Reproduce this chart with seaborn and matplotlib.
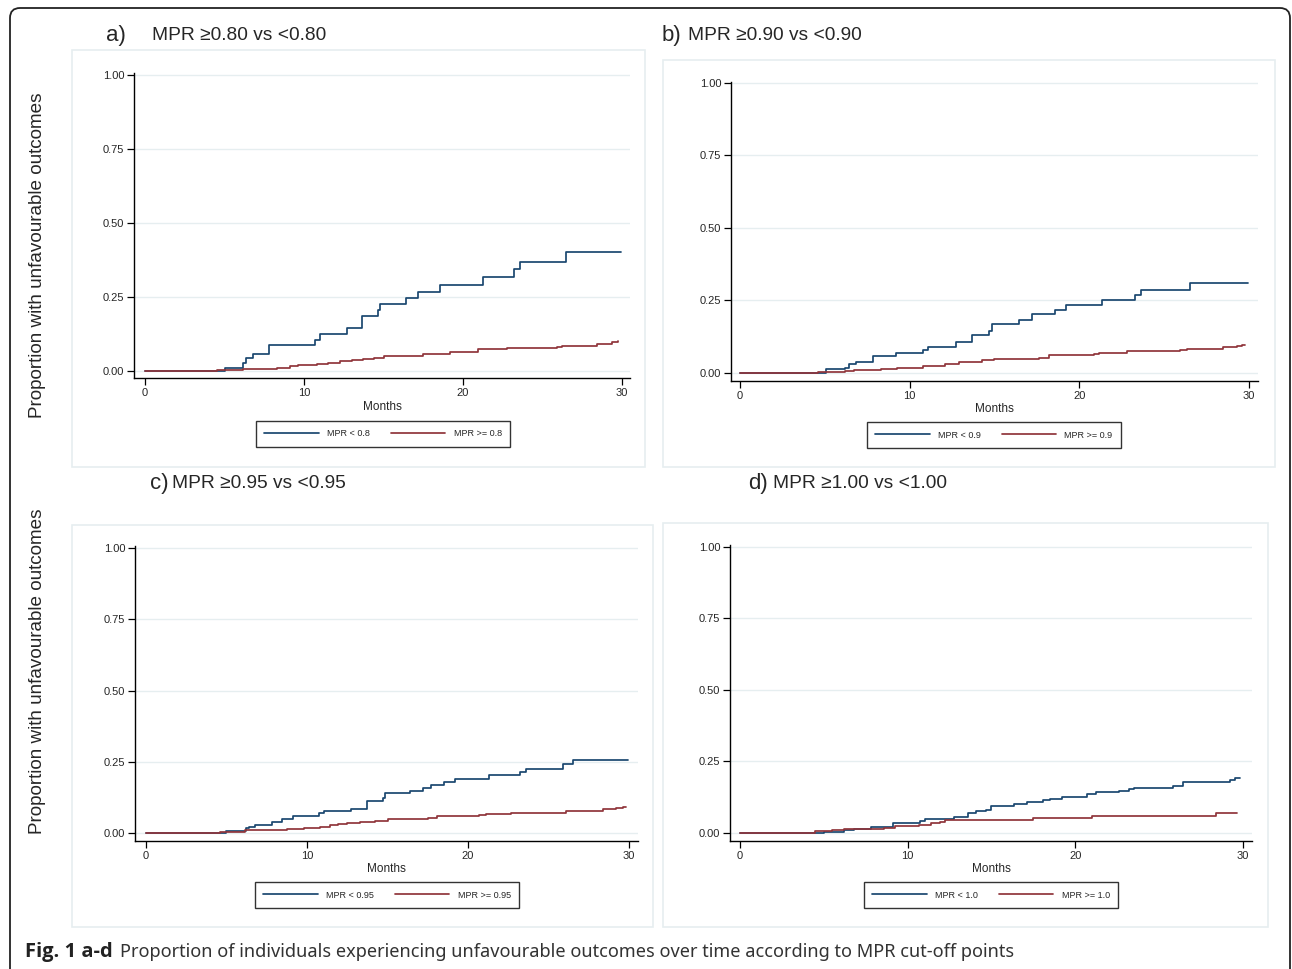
import matplotlib.pyplot as plt
import matplotlib.patches as mpatches
import matplotlib.transforms as mtransforms
import pandas as pd
import seaborn as sns

# step curves (months, cumulative proportion)
a_low_t = [0, 5.03, 6.18, 6.35, 6.81, 7.78, 10.71, 11.03, 12.68, 13.63, 14.63, 14.78,
           16.39, 17.15, 18.53, 21.28, 23.23, 23.58, 26.5, 29.92]
a_low_y = [0, 0.011, 0.026, 0.042, 0.057, 0.088, 0.105, 0.125, 0.144, 0.184, 0.205, 0.225,
           0.245, 0.267, 0.292, 0.316, 0.343, 0.369, 0.403, 0.403]
a_high_t = [0, 4.5, 6.18, 6.6, 8.28, 9.12, 9.6, 10.8, 11.5, 12.26, 13.0, 13.73, 14.4, 15.0,
            17.5, 19.2, 20.96, 22.75, 25.9, 26.2, 28.4, 29.35, 29.77]
a_high_y = [0, 0.002, 0.006, 0.008, 0.011, 0.016, 0.019, 0.023, 0.027, 0.032, 0.036, 0.040,
            0.045, 0.049, 0.057, 0.065, 0.073, 0.076, 0.080, 0.085, 0.090, 0.097, 0.100]

b_low_t = [0, 5.04, 6.2, 6.41, 6.83, 7.83, 9.21, 10.78, 11.1, 12.73, 13.69, 14.66, 14.85,
           16.45, 17.19, 18.55, 19.24, 21.33, 23.27, 23.61, 26.54, 29.96]
b_low_y = [0, 0.012, 0.018, 0.029, 0.038, 0.058, 0.069, 0.078, 0.090, 0.105, 0.129, 0.144,
           0.169, 0.184, 0.202, 0.217, 0.234, 0.250, 0.268, 0.287, 0.309, 0.309]
b_high_t = [0, 4.58, 6.2, 6.7, 8.34, 8.75, 9.25, 10.78, 11.08, 12.1, 12.9, 14.24, 14.95,
            17.6, 18.2, 20.85, 21.15, 22.78, 25.93, 26.34, 28.47, 29.29, 29.6, 29.75]
b_high_y = [0, 0.002, 0.006, 0.009, 0.012, 0.015, 0.018, 0.022, 0.025, 0.032, 0.038, 0.044,
            0.048, 0.053, 0.060, 0.065, 0.070, 0.075, 0.079, 0.083, 0.088, 0.092, 0.097, 0.097]

c_low_t = [0, 5.0, 6.19, 6.4, 6.8, 7.8, 8.43, 9.15, 10.77, 11.08, 12.71, 13.71, 14.74, 14.82,
           16.4, 17.18, 17.68, 18.53, 19.21, 21.28, 23.23, 23.58, 25.92, 26.54, 29.92]
c_low_y = [0, 0.008, 0.018, 0.022, 0.028, 0.040, 0.048, 0.060, 0.069, 0.078, 0.085, 0.111,
           0.124, 0.139, 0.147, 0.158, 0.169, 0.179, 0.189, 0.203, 0.213, 0.225, 0.241, 0.255, 0.255]
c_high_t = [0, 4.6, 6.15, 7.5, 8.74, 9.8, 10.8, 11.4, 11.9, 12.46, 13.3, 14.2, 15.05, 17.5,
            18.1, 20.7, 21.1, 22.7, 26.1, 28.4, 29.2, 29.65, 29.8]
c_high_y = [0, 0.005, 0.009, 0.012, 0.015, 0.018, 0.022, 0.027, 0.030, 0.034, 0.039, 0.043,
            0.048, 0.054, 0.058, 0.063, 0.068, 0.071, 0.078, 0.083, 0.088, 0.092, 0.092]

d_low_t = [0, 5.02, 6.22, 6.8, 7.8, 9.14, 10.74, 11.04, 12.75, 13.6, 14.1, 14.66, 14.96,
           16.37, 17.13, 18.07, 18.47, 19.18, 20.68, 21.24, 22.59, 23.19, 23.5, 25.8, 26.4,
           29.2, 29.52, 29.8]
d_low_y = [0, 0.002, 0.010, 0.015, 0.022, 0.035, 0.042, 0.048, 0.055, 0.071, 0.077, 0.080,
           0.095, 0.100, 0.107, 0.115, 0.120, 0.127, 0.137, 0.142, 0.147, 0.153, 0.158, 0.166,
           0.178, 0.187, 0.194, 0.194]
d_high_t = [0, 4.5, 5.5, 6.2, 6.6, 8.6, 9.24, 10.7, 11.4, 11.95, 12.25, 17.47, 21.0, 28.37, 29.66]
d_high_y = [0, 0.006, 0.010, 0.014, 0.015, 0.019, 0.023, 0.029, 0.034, 0.038, 0.045, 0.053,
            0.060, 0.071, 0.071]

letters = ["a)", "b)", "c)", "d)"]
titles = ["MPR \u22650.80 vs <0.80", "MPR \u22650.90 vs <0.90",
          "MPR \u22650.95 vs <0.95", "MPR \u22651.00 vs <1.00"]
low_labels = ["MPR < 0.8", "MPR < 0.9", "MPR < 0.95", "MPR < 1.0"]
high_labels = ["MPR >= 0.8", "MPR >= 0.9", "MPR >= 0.95", "MPR >= 1.0"]
series = [
    (a_low_t, a_low_y, a_high_t, a_high_y),
    (b_low_t, b_low_y, b_high_t, b_high_y),
    (c_low_t, c_low_y, c_high_t, c_high_y),
    (d_low_t, d_low_y, d_high_t, d_high_y),
]
yticks = [0, 0.25, 0.5, 0.75, 1.0]
xticks = [0, 10, 20, 30]

W, H = 1292, 969
BLUE = "#1a476f"
RED = "#90353b"
GRID = "#e6eef0"

# layout in pixels: axes (left, right, top, bottom), limits, panel box, letter/title pos, legend center
layout = [
    dict(ax=(134, 630, 73, 378), xlim=(-0.69, 30.5), ylim=(-0.024, 1.007),
         box=(72, 645, 50, 467), letter=(106, 35), title=(152, 35), leg=(383, 434)),
    dict(ax=(731, 1258, 82, 381), xlim=(-0.53, 30.53), ylim=(-0.028, 1.003),
         box=(663, 1275, 60, 467), letter=(662, 35), title=(688, 35), leg=(994, 435)),
    dict(ax=(135, 638, 546, 841), xlim=(-0.68, 30.56), ylim=(-0.028, 1.007),
         box=(72, 653, 525, 927), letter=(150, 484), title=(172, 484), leg=(387, 895)),
    dict(ax=(730, 1252, 545, 841), xlim=(-0.6, 30.54), ylim=(-0.028, 1.007),
         box=(663, 1268, 523, 927), letter=(748, 484), title=(773, 484), leg=(991, 895)),
]

sns.set_style("white")
plt.rcParams["font.family"] = ["Liberation Sans", "DejaVu Sans"]

fig = plt.figure(figsize=(W / 100, H / 100), dpi=100)

# outer rounded frame
frame = mpatches.FancyBboxPatch((10, -30), 1280, H - 8 + 30,
                                boxstyle="round,pad=0,rounding_size=10",
                                transform=mtransforms.IdentityTransform(),
                                facecolor="none", edgecolor="#222222", linewidth=1.3,
                                zorder=-2)
fig.patches.append(frame)


def fx(px):
    return px / W


def fy(py):
    return 1 - py / H


for i, lay in enumerate(layout):
    bl, br, bt, bb = lay["box"]
    fig.patches.append(mpatches.Rectangle((fx(bl), fy(bb)), fx(br) - fx(bl), fy(bt) - fy(bb),
                                          transform=fig.transFigure, facecolor="white",
                                          edgecolor=GRID, linewidth=1.2, zorder=-1))

    l, r, t, b = lay["ax"]
    ax = fig.add_axes([fx(l), fy(b), fx(r) - fx(l), fy(t) - fy(b)])
    ax.patch.set_alpha(0)

    lt, ly, ht, hy = series[i]
    df = pd.concat([
        pd.DataFrame({"Months": lt, "prop": ly, "group": low_labels[i]}),
        pd.DataFrame({"Months": ht, "prop": hy, "group": high_labels[i]}),
    ])
    sns.lineplot(data=df, x="Months", y="prop", hue="group",
                 hue_order=[low_labels[i], high_labels[i]], palette=[BLUE, RED],
                 estimator=None, sort=False, drawstyle="steps-post",
                 linewidth=1.25, ax=ax)

    ax.set_xlim(*lay["xlim"])
    ax.set_ylim(*lay["ylim"])
    ax.set_yticks(yticks)
    ax.set_yticklabels([f"{v:.2f}" for v in yticks])
    ax.set_xticks(xticks)
    ax.yaxis.grid(True, color=GRID, linewidth=1)
    ax.xaxis.grid(False)
    ax.set_axisbelow(True)
    for s in ["top", "right"]:
        ax.spines[s].set_visible(False)
    for s in ["left", "bottom"]:
        ax.spines[s].set_color("black")
        ax.spines[s].set_linewidth(1)
    ax.tick_params(axis="both", direction="out", length=5, width=0.9, color="black",
                   labelsize=8, pad=2, left=True, bottom=True)
    ax.set_ylabel("")
    ax.set_xlabel("Months", fontsize=8.5, labelpad=2)

    sns.move_legend(ax, "center", bbox_to_anchor=(fx(lay["leg"][0]), fy(lay["leg"][1])),
                    bbox_transform=fig.transFigure, ncol=2, title=None, frameon=True,
                    fancybox=False, edgecolor="black", fontsize=6.5, handlelength=6,
                    columnspacing=2.4, borderpad=0.9, handletextpad=0.9)
    leg = ax.get_legend()
    leg.get_frame().set_linewidth(1)

    fig.text(fx(lay["letter"][0]), fy(lay["letter"][1]), letters[i], fontsize=16,
             ha="left", va="center")
    fig.text(fx(lay["title"][0]), fy(lay["title"][1]), titles[i], fontsize=13.8,
             ha="left", va="center")

for yc in [255, 671]:
    fig.text(fx(38), fy(yc), "Proportion with unfavourable outcomes", rotation=90,
             fontsize=13.6, ha="center", va="center")

fig.text(fx(25), fy(952), "Fig. 1 a-d", fontsize=14.5, fontweight="bold",
         family=["Open Sans", "DejaVu Sans"], color="#222222", ha="left", va="center")
fig.text(fx(120), fy(952),
         "Proportion of individuals experiencing unfavourable outcomes over time according to MPR cut-off points",
         fontsize=13.1, family=["Noto Sans", "DejaVu Sans"], color="#333333",
         ha="left", va="center")

fig.savefig("out.png", dpi=100)
